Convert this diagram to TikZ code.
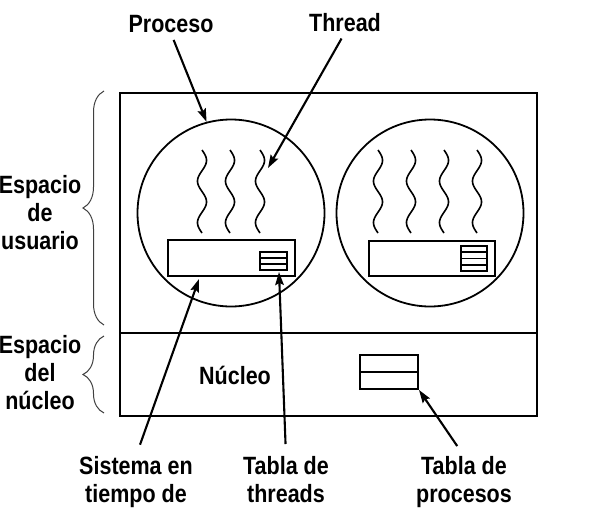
\documentclass[tikz,border=0pt]{standalone}
\usepackage{fontspec}
\newfontfamily\lblfont{Liberation Sans}[FakeStretch=0.86]
\usetikzlibrary{arrows.meta,decorations.pathreplacing}

\tikzset{
  lbl/.style={font=\lblfont\bfseries\fontsize{25}{28}\selectfont, align=center, inner sep=0pt},
  frame/.style={draw, line width=2.3pt},
  proc/.style={draw, circle, line width=1.8pt, minimum size=187pt, inner sep=0pt},
  rtbox/.style={draw, line width=2pt, inner sep=0pt},
  wave/.style={line width=1.6pt},
  pointer/.style={line width=2.1pt, -{Stealth[length=13pt,width=8.5pt,inset=2pt]}, shorten <=7pt},
  brace/.style={draw, line width=1pt, black!75, decorate, decoration={brace, amplitude=21pt}}
}

\begin{document}
\begin{tikzpicture}[x=1pt, y=-1pt]
  \clip (0,0) rectangle (602,511);
  \draw[frame] (120,93) rectangle (537,416);
  \draw[frame] (120,333) -- (537,333);

  % procesos
  \node[proc] (procA) at (231,213) {};
  \node[proc] (procB) at (430,213) {};
  \foreach \t in {202,230,260} {
    \draw[wave] plot[domain=0:83, samples=90, smooth] ({\t+4.5*sin(\x*8.675)}, {150+\x});
  }
  \foreach \t in {378,411,444,477} {
    \draw[wave] plot[domain=0:83, samples=90, smooth] ({\t+4.5*sin(\x*8.675)}, {150+\x});
  }
  \coordinate (thrtip) at (268,168);

  % sistemas en tiempo de ejecucion
  \node[rtbox, minimum width=127pt, minimum height=36pt] (rtA) at (231.5,258) {};
  \node[rtbox, minimum width=126pt, minimum height=35pt] (rtB) at (432,258.5) {};
  \node[rtbox, minimum width=27pt, minimum height=18pt] (thtA) at (273.5,261) {};
  \node[rtbox, minimum width=26pt, minimum height=25pt] (thtB) at (474,258.5) {};
  \foreach \k in {1,2} { \draw[line width=1.6pt] (260,252+6*\k) -- (287,252+6*\k); }
  \foreach \k in {1,2,3} { \draw[line width=1.6pt] (461,246+6.25*\k) -- (487,246+6.25*\k); }
  \coordinate (systip) at (199,279);
  \coordinate (thttip) at (279,272);

  % nucleo
  \node[rtbox, minimum width=58pt, minimum height=34pt] (ptab) at (389,372) {};
  \draw[line width=2pt] (ptab.west) -- (ptab.east);

  % llaves
  \draw[brace] (104,325) -- (104,91);
  \draw[brace] (104,413) -- (104,336);

  % textos
  \node[lbl, anchor=base] (lproc) at (171,33) {Proceso};
  \node[lbl, anchor=base] (lthr) at (345,32) {Thread};
  \node[lbl, anchor=north] (luser) at (40,175) {Espacio\\de\\usuario};
  \node[lbl, anchor=north] (lkern) at (40,335) {Espacio\\del\\núcleo};
  \node[lbl, anchor=base] (lnuc) at (235,384) {Núcleo};
  \node[lbl, anchor=north] (lsys) at (136,456) {Sistema en\\tiempo de};
  \node[lbl, anchor=north] (lthtab) at (286,456) {Tabla de\\threads};
  \node[lbl, anchor=north] (lprtab) at (464,456) {Tabla de\\procesos};

  % flechas
  \draw[pointer] (lproc.south) -- (procA.105);
  \draw[pointer] (lthr.south) -- (thrtip);
  \draw[pointer, shorten <=12pt] (lsys.north) -- (systip);
  \draw[pointer, shorten <=12pt] (lthtab.north) -- (thttip);
  \draw[pointer, shorten <=12pt] (lprtab.north) -- (ptab.south east);
\end{tikzpicture}
\end{document}
